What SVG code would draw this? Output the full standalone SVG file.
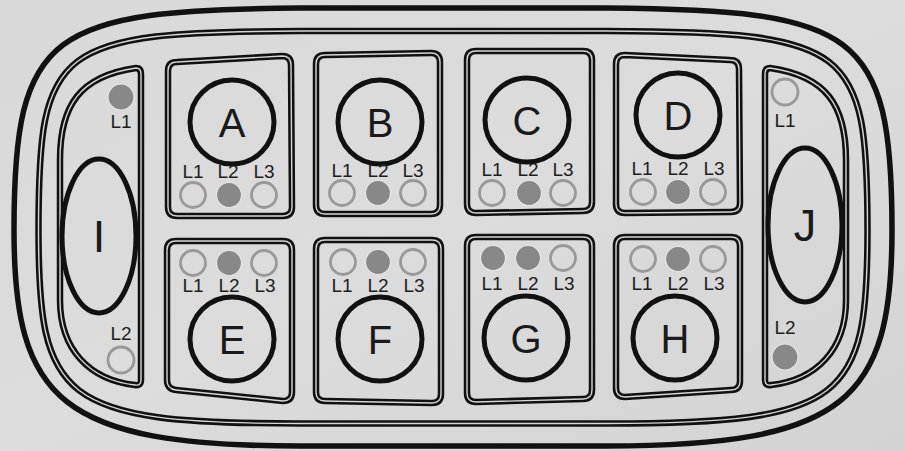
<svg xmlns="http://www.w3.org/2000/svg" xmlns:xlink="http://www.w3.org/1999/xlink" width="905" height="451" viewBox="0 0 905 451">
<style>
.line{fill:none;stroke:#111;stroke-width:6.5;stroke-linejoin:round}
.gap{fill:none;stroke:#d6d6d6;stroke-width:1.4;stroke-linejoin:round}
.outer{fill:none;stroke:#111;stroke-width:5.5}
.ring{fill:none;stroke:#111;stroke-width:5}
.on{fill:#888;stroke:#e6e6e6;stroke-width:1.2}
.off{fill:none;stroke:#999;stroke-width:2.8}
.lbl{font-family:"Liberation Sans",Arial,sans-serif;font-size:19px;fill:#1e1e1e;text-anchor:middle}
.big{font-family:"Liberation Sans",Arial,sans-serif;font-size:40px;fill:#1a1a1a;text-anchor:middle}
.side{font-family:"Liberation Sans",Arial,sans-serif;font-size:45px;fill:#1a1a1a;text-anchor:middle}
</style>
<defs>
<linearGradient id="bg" x1="0" y1="0" x2="1" y2="1">
<stop offset="0" stop-color="#d9d9d9"/>
<stop offset="0.5" stop-color="#dcdcdc"/>
<stop offset="1" stop-color="#d3d3d3"/>
</linearGradient>
<path id="pMid" d="M300,31 L606,31 C851,32 867.5,45 867.5,230 C867.5,400 846,423.5 606,423.5 L300,423.5 C60,423.5 38.5,400 38.5,230 C38.5,45 55,32 300,31 Z"/>
<path id="pI" d="M136,68 Q141,68 141,74 L141,380 Q141,386 135,385 C90,380 60,350 60,300 L60,160 C60,105 80,76 136,68 Z"/>
<path id="pJ" d="M770,68 Q765,68 765,74 L765,380 Q765,386 771,385 C816,380 846,350 846,300 L846,160 C846,105 826,76 770,68 Z"/>
<path id="pA" d="M168,71 Q168,62 177,62 L282,56 Q291,56 291,65 L292,207 Q292,216 283,216 L177,216 Q168,216 168,207 Z"/>
<path id="pB" d="M316,64 Q316,55 325,55 L431,53 Q440,53 440,62 L440,205 Q440,214 431,214 L325,214 Q316,214 316,205 Z"/>
<path id="pC" d="M467,60 Q467,51 476,51 L583,51 Q592,51 592,60 L592,202 Q592,211 583,211 L476,213 Q467,213 467,204 Z"/>
<path id="pD" d="M616,64 Q616,55 625,55 L730,60 Q739,60 739,69 L740,203 Q740,212 731,212 L625,213 Q616,213 616,204 Z"/>
<path id="pE" d="M167,250 Q167,241 176,241 L283,241 Q292,241 292,250 L292,392 Q292,401 283,401 L176,390 Q167,389 167,380 Z"/>
<path id="pF" d="M316,249 Q316,240 325,240 L432,240 Q441,240 441,249 L441,394 Q441,403 432,403 L325,401 Q316,401 316,392 Z"/>
<path id="pG" d="M467,246 Q467,237 476,237 L583,237 Q592,237 592,246 L592,390 Q592,399 583,399 L476,402 Q467,402 467,393 Z"/>
<path id="pH" d="M616,246 Q616,237 625,237 L731,237 Q740,237 740,246 L740,381 Q740,390 731,390 L625,397 Q616,397 616,388 Z"/>
</defs>
<rect width="905" height="451" fill="url(#bg)"/>

<g id="bezel">
<path class="outer" d="M300,8 L606,8 C856,10 892,30 892,230 C892,400 846,446 606,446 L300,446 C60,446 14,400 14,230 C14,30 50,10 300,8 Z"/>
<use href="#pMid" class="line"/>
<use href="#pMid" class="gap"/>
</g>

<g id="panel-I">
<use href="#pI" class="line"/><use href="#pI" class="gap"/>
<circle class="on" cx="121" cy="97" r="13"/>
<text class="lbl" x="121" y="128">L1</text>
<ellipse class="ring" cx="99" cy="236" rx="37" ry="77"/>
<text class="side" x="99" y="252">I</text>
<text class="lbl" x="121" y="340">L2</text>
<circle class="off" cx="121" cy="360" r="13"/>
</g>

<g id="panel-J">
<use href="#pJ" class="line"/><use href="#pJ" class="gap"/>
<circle class="off" cx="785" cy="92" r="13"/>
<text class="lbl" x="785" y="127">L1</text>
<ellipse class="ring" cx="805" cy="225" rx="37" ry="77"/>
<text class="side" x="805" y="241">J</text>
<text class="lbl" x="785" y="334">L2</text>
<circle class="on" cx="785" cy="357" r="13"/>
</g>

<g id="button-A">
<use href="#pA" class="line"/><use href="#pA" class="gap"/>
<circle class="ring" cx="232" cy="122" r="42"/>
<text class="big" x="232" y="136.5">A</text>
<text class="lbl" x="193" y="178">L1</text><text class="lbl" x="228" y="178">L2</text><text class="lbl" x="264" y="178">L3</text>
<circle class="off" cx="193" cy="195" r="12.5"/><circle class="on" cx="229" cy="195" r="12.5"/><circle class="off" cx="264" cy="195" r="12.5"/>
</g>

<g id="button-B">
<use href="#pB" class="line"/><use href="#pB" class="gap"/>
<circle class="ring" cx="380" cy="122" r="42"/>
<text class="big" x="380" y="136.5">B</text>
<text class="lbl" x="342" y="177">L1</text><text class="lbl" x="378" y="177">L2</text><text class="lbl" x="413" y="177">L3</text>
<circle class="off" cx="342" cy="193" r="12.5"/><circle class="on" cx="378" cy="193" r="12.5"/><circle class="off" cx="413" cy="193" r="12.5"/>
</g>

<g id="button-C">
<use href="#pC" class="line"/><use href="#pC" class="gap"/>
<circle class="ring" cx="527" cy="120" r="42"/>
<text class="big" x="527" y="134.5">C</text>
<text class="lbl" x="492" y="176">L1</text><text class="lbl" x="528" y="176">L2</text><text class="lbl" x="563" y="176">L3</text>
<circle class="off" cx="492" cy="193" r="12.5"/><circle class="on" cx="529" cy="193" r="12.5"/><circle class="off" cx="563" cy="193" r="12.5"/>
</g>

<g id="button-D">
<use href="#pD" class="line"/><use href="#pD" class="gap"/>
<circle class="ring" cx="678" cy="115" r="42"/>
<text class="big" x="678" y="129.5">D</text>
<text class="lbl" x="642" y="175">L1</text><text class="lbl" x="678" y="175">L2</text><text class="lbl" x="714" y="175">L3</text>
<circle class="off" cx="643" cy="192" r="12.5"/><circle class="on" cx="678" cy="192" r="12.5"/><circle class="off" cx="713" cy="192" r="12.5"/>
</g>

<g id="button-E">
<use href="#pE" class="line"/><use href="#pE" class="gap"/>
<circle class="off" cx="193" cy="263" r="12.5"/><circle class="on" cx="229" cy="263" r="12.5"/><circle class="off" cx="264" cy="263" r="12.5"/>
<text class="lbl" x="193" y="292">L1</text><text class="lbl" x="229" y="292">L2</text><text class="lbl" x="265" y="292">L3</text>
<circle class="ring" cx="232" cy="339" r="42"/>
<text class="big" x="232" y="353.5">E</text>
</g>

<g id="button-F">
<use href="#pF" class="line"/><use href="#pF" class="gap"/>
<circle class="off" cx="343" cy="262" r="12.5"/><circle class="on" cx="378" cy="262" r="12.5"/><circle class="off" cx="413" cy="262" r="12.5"/>
<text class="lbl" x="342" y="292">L1</text><text class="lbl" x="378" y="292">L2</text><text class="lbl" x="414" y="292">L3</text>
<circle class="ring" cx="380" cy="339" r="42"/>
<text class="big" x="380" y="353.5">F</text>
</g>

<g id="button-G">
<use href="#pG" class="line"/><use href="#pG" class="gap"/>
<circle class="on" cx="493" cy="258" r="12.5"/><circle class="on" cx="528" cy="258" r="12.5"/><circle class="off" cx="563" cy="258" r="12.5"/>
<text class="lbl" x="492" y="290">L1</text><text class="lbl" x="528" y="290">L2</text><text class="lbl" x="564" y="290">L3</text>
<circle class="ring" cx="526" cy="338" r="42"/>
<text class="big" x="526" y="352.5">G</text>
</g>

<g id="button-H">
<use href="#pH" class="line"/><use href="#pH" class="gap"/>
<circle class="off" cx="643" cy="259" r="12.5"/><circle class="on" cx="678" cy="259" r="12.5"/><circle class="off" cx="713" cy="259" r="12.5"/>
<text class="lbl" x="642" y="290">L1</text><text class="lbl" x="678" y="290">L2</text><text class="lbl" x="714" y="290">L3</text>
<circle class="ring" cx="675" cy="338" r="42"/>
<text class="big" x="675" y="352.5">H</text>
</g>
</svg>
